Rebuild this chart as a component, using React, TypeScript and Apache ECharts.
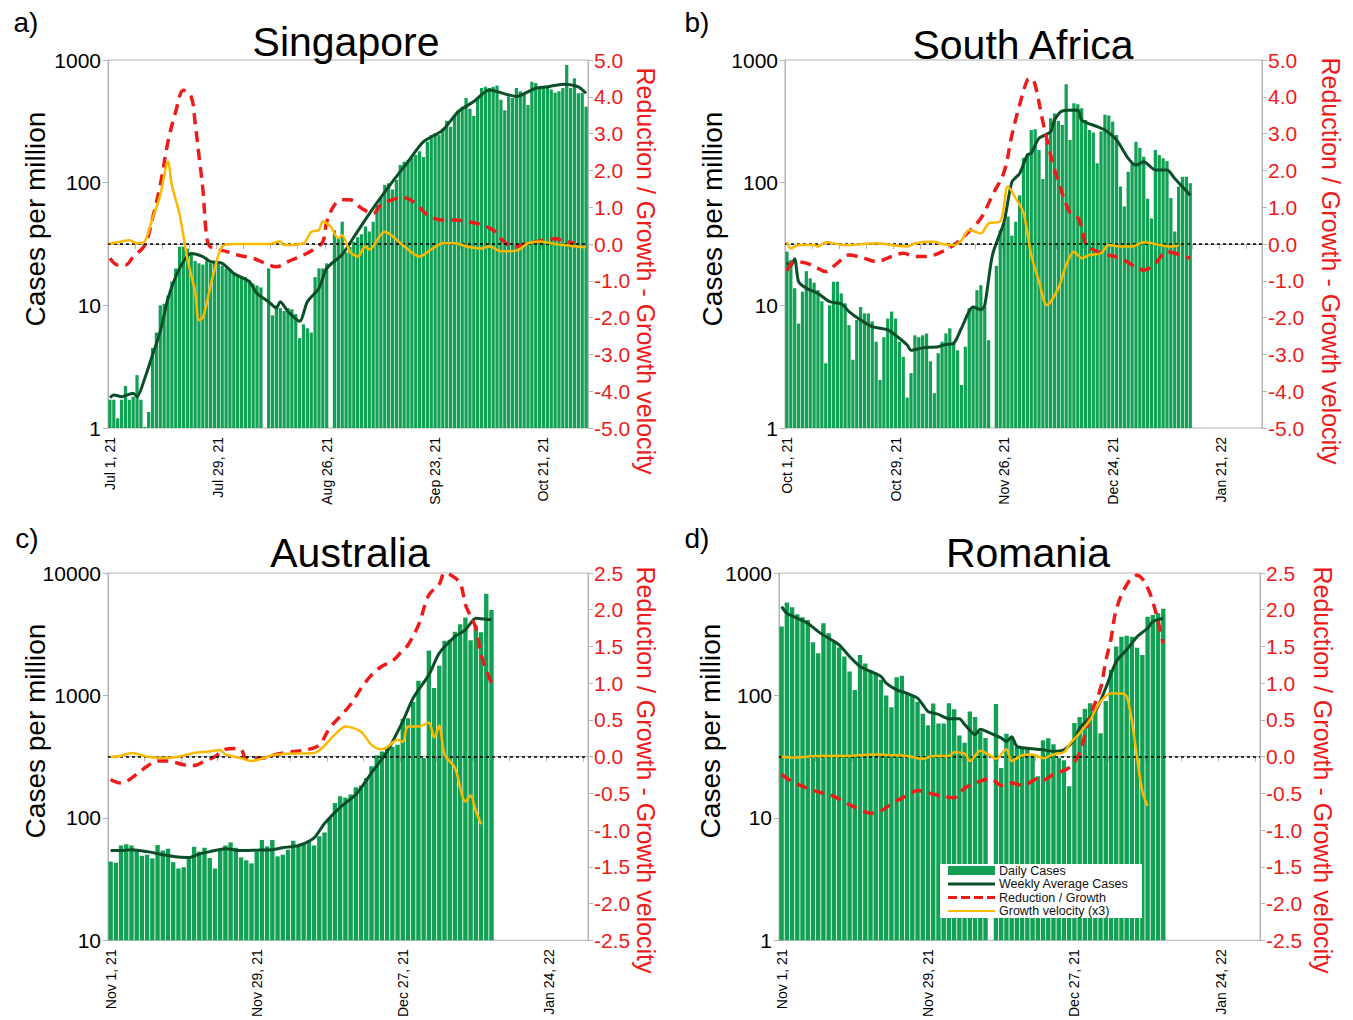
import React, { useEffect, useRef } from 'react';
import * as echarts from 'echarts';

const FONT = '"Liberation Sans", Arial, sans-serif';
const GREEN = '#12a154';
const DARK = '#0a4f28';
const RED = '#ee1b1b';
const YELLOW = '#fbb800';
const AXIS = '#b3b3b3';

const MONTHS = ['Jan', 'Feb', 'Mar', 'Apr', 'May', 'Jun', 'Jul', 'Aug', 'Sep', 'Oct', 'Nov', 'Dec'];
function dayLabels(y: number, m: number, d: number, n: number): string[] {
  const out: string[] = [];
  for (let k = 0; k < n; k++) {
    const dt = new Date(Date.UTC(y, m, d + k));
    out.push(`${MONTHS[dt.getUTCMonth()]} ${dt.getUTCDate()}, ${String(dt.getUTCFullYear()).slice(2)}`);
  }
  return out;
}

// Categories (daily)
const sgDays = dayLabels(2021, 6, 1, 124);
const saDays = dayLabels(2021, 9, 1, 123);
const auDays = dayLabels(2021, 10, 1, 92);
const roDays = dayLabels(2021, 10, 1, 92);

const TITLES = ['Singapore', 'South Africa', 'Australia', 'Romania'];
const LETTERS = ['a)', 'b)', 'c)', 'd)'];
const LEFT_NAME = 'Cases per million';
const RIGHT_NAME = 'Reduction / Growth - Growth velocity';
const LEGEND_NAMES = ['Daily Cases', 'Weekly Average Cases', 'Reduction / Growth', 'Growth velocity (x3)'];

// ---- Singapore ----
const sgBars = [
  1.7, 1.7, 1.2, 1.7, 2.2, 1.7, 1.8, 2.7, 1.7, 1.02, 1.35,
  4.5, 6, 10, 10.3, 12, 15.6, 20, 30, 30, 29, 27,
  23, 22, 21.5, 23, 22, 23, 22, 21, 20, 19.5, 18.6, 17.8, 16.8, 17, 16, 15, 14.5, 14,
  null, 20, 8.3, 10, 9.5, 9, 9.5, 9.3, 8.5, 5.4, 7, 6.5, 6, 17, 20, 20, 22, null, 41, 35,
  48, 27, 30, 33, 36, 38, 44, 40, 48, 66, 75, 96, 99, 88, 105, 139, 148, 152, 162, 168,
  180, 162, 216, 245, 253, 245, 277, 320, 285, 356, 390, 415, 490, 400, 350, 490, 590, 605, 590, 605,
  620, 475, 390, 505, 490, 590, 555, 520, 430, 665, 650, 590, 600, 590, 575, 540, 555, 590, 910, 590,
  710, 535, 540, 415,
];
const sgWeekly = [
  [0, 1.77], [1, 1.86], [3, 1.8], [6, 1.92], [7, 1.8], [9, 2.54], [11, 3.94], [13, 6.1], [15, 11.4], [18, 20],
  [21, 26.5], [24, 25], [26, 22.7], [29, 22], [32, 18.2], [36, 15.6], [38, 12.5], [41, 10.7], [43, 9.5], [44, 10.7],
  [46, 8.9], [49, 7.4], [51, 10.7], [54, 13.8], [56, 20], [60, 26], [63, 36], [68, 62], [73, 102], [77, 148],
  [81, 216], [86, 268], [90, 380], [94, 458], [98, 569], [103, 519], [105, 505], [110, 590], [113, 605], [117, 635],
  [121, 605], [123, 535],
];
const sgRed = [
  [0, -0.39], [2, -0.57], [4, -0.57], [6, -0.35], [9, -0.03], [11, 0.7], [13, 1.6], [15, 2.78], [17, 3.6], [19, 4.18],
  [21, 4.0], [22, 3.3], [23, 2.4], [24, 1.5], [25, 0.2], [26, -0.08], [30, -0.2], [33, -0.3], [37, -0.39], [40, -0.52],
  [43, -0.62], [46, -0.48], [50, -0.3], [53, -0.12], [55, 0.06], [56, 0.6], [58, 1.06], [60, 1.2], [62, 1.2], [65, 0.97],
  [68, 0.83], [70, 1.06], [74, 1.24], [76, 1.26], [79, 1.1], [82, 0.79], [86, 0.65], [89, 0.65], [93, 0.6], [96, 0.52],
  [99, 0.38], [101, 0.15], [103, -0.03], [105, -0.07], [107, 0], [110, 0.06], [112, 0.1], [115, 0.14], [118, 0.06], [120, 0.02],
];
const sgYellow = [
  [0, 0.02], [2, 0.05], [5, 0.1], [7, 0.02], [9, 0.07], [11, 0.7], [13, 1.33], [15, 2.24], [16, 1.6], [18, 0.8],
  [20, -0.4], [22, -1.3], [23, -2.07], [24, -2.0], [25, -1.6], [27, -0.7], [29, -0.07], [32, 0], [37, 0], [41, 0],
  [44, 0.07], [45, -0.03], [50, 0.02], [52, 0.33], [54, 0.38], [55, 0.61], [57, 0.47], [59, 0.16], [60, 0.24], [62, -0.21],
  [64, -0.34], [66, -0.07], [67, -0.15], [71, 0.33], [75, 0.03], [80, -0.34], [83, -0.15], [86, 0.02], [89, 0.02], [93, -0.09],
  [96, -0.12], [98, -0.06], [101, -0.2], [105, -0.18], [108, 0.02], [111, 0.07], [115, 0], [120, -0.06], [123, -0.09],
];

// ---- South Africa ----
const saBars = [
  27.4, 23.4, 13.8, 7.1, 12.9, 19, 16.6, 15.3, 13.3, 10.8,
  3.37, 10, 15.6, 15.6, 12.5, 10.4, 6.9, 3.6, 7.6, 9.7,
  8.6, 8.6, 7.4, 5.05, 2.46, 5.5, 7.8, 8.9, 7.8, 5.05,
  3.8, 1.77, 2.8, 5.7, 5.5, 5.7, 5.9, 3.5, 1.92, 4.07,
  5.05, 5.9, 6.5, 5.05, 4.3, 2.24, 4.6, 9.5, 9.7, 13.3,
  14.6, 9.7, 5.2, null, 21, 41, 47, 53, 37, 48, 79,
  160, 168, 269, 273, 185, 107, 230, 335, 367, 318, 295, 634, 223, 445, 435, 404, 324, 269, 257, 144,
  262, 357, 352, 314, 245, 93, 64, 123, 144, 216, 193, 163, 74, 51, 185, 168, 158, 150, 75, 40,
  93, 112, 112, 99,
];
const saWeekly = [
  [0, 22.4], [1, 21], [2, 24], [3, 15.6], [5, 13.8], [8, 12.5], [11, 10.7], [14, 10.3], [16, 8.9], [19, 7.6],
  [22, 6.7], [26, 6.3], [28, 5.7], [31, 4.75], [32, 4.3], [35, 4.5], [39, 4.6], [41, 4.8], [43, 4.9], [45, 6.5],
  [48, 9.7], [50, 9.2], [51, 10], [53, 25.8], [56, 48], [58, 101], [60, 119], [62, 168], [63, 174], [65, 230],
  [68, 260], [69, 324], [71, 384], [75, 391], [76, 324], [80, 286], [82, 269], [85, 223], [88, 158], [90, 139],
  [92, 148], [95, 127], [98, 127], [100, 108], [104, 79],
];
const saRed = [
  [0, -0.73], [2, -0.48], [5, -0.52], [8, -0.66], [10, -0.75], [13, -0.52], [16, -0.3], [20, -0.39], [23, -0.48], [27, -0.34],
  [30, -0.25], [33, -0.34], [36, -0.34], [40, -0.21], [43, -0.03], [46, 0.24], [50, 0.7], [53, 1.33], [56, 1.96], [58, 2.96],
  [60, 3.78], [62, 4.46], [63, 4.5], [64, 4.32], [66, 3.32], [68, 2.42], [70, 1.69], [73, 0.85], [75, 0.72], [76, 0.45],
  [77, 0.0], [78, -0.1], [81, -0.25], [86, -0.39], [89, -0.57], [92, -0.71], [95, -0.52], [98, -0.21], [100, -0.25], [104, -0.39],
];
const saYellow = [
  [0, 0.06], [1, -0.12], [3, -0.03], [7, -0.03], [8, -0.07], [10, 0.05], [15, -0.03], [23, 0.02], [27, -0.03], [31, -0.07],
  [33, 0.02], [38, 0.06], [40, 0], [43, -0.03], [45, 0.1], [47, 0.38], [50, 0.29], [52, 0.56], [55, 0.61], [57, 1.56],
  [59, 1.24], [61, 0.85], [63, -0.3], [65, -1.02], [67, -1.66], [70, -1.2], [72, -0.57], [74, -0.21], [75, -0.3], [76, -0.39],
  [78, -0.3], [81, -0.25], [83, -0.03], [86, -0.07], [89, -0.07], [92, 0.05], [95, 0], [99, -0.07], [101, -0.04],
];

// ---- Australia ----
const auBars = [
  44, 43, 59.5, 61, 59.5, 55, 49, 50, 46.6, 60,
  54, 56, 43.5, 38.6, 39.5, 47, 58, 53, 57, 47,
  38.6, 55, 59.5, 63, 57, 47.5, 45, 42.5, 53, 66,
  58.5, 66, 48.5, 50, 55, 65, 59.5, 61, 65.5, 59.5,
  70.8, 76, 100, 132, 150, 146,
  155, 178, 184, 212, 264, 324, 349, 376, 381, 396, 646, 652, 883, 1318, 308, 2328, 1148, 1745, 2791, 2850,
  3320, 3818, 4325, 2820, 3700, 3280, 6770, 4990,
];
const auWeekly = [
  [0, 54], [2, 54], [4, 55], [7, 53], [10, 50], [13, 47.8], [15, 47.5], [17, 50.7], [19, 53], [22, 56],
  [25, 54], [28, 54.5], [31, 55], [33, 57], [36, 59.5], [39, 68.7], [41, 90], [44, 122], [47, 155], [50, 233],
  [53, 349], [56, 614], [58, 952], [61, 1472], [63, 2213], [66, 3020], [68, 3430], [70, 4270], [71, 4230], [73, 4150],
];
const auRed = [
  [0, -0.31], [2, -0.36], [3, -0.34], [5, -0.24], [7, -0.13], [9, -0.06], [11, -0.06], [14, -0.11], [16, -0.12], [18, -0.06],
  [20, 0], [22, 0.1], [24, 0.11], [25, 0.1], [26, -0.02], [29, -0.02], [31, 0.02], [34, 0.06], [38, 0.1], [40, 0.16],
  [42, 0.39], [44, 0.55], [46, 0.71], [48, 0.93], [50, 1.11], [52, 1.23], [54, 1.3], [56, 1.45], [57, 1.52], [59, 1.79],
  [61, 2.2], [63, 2.35], [64, 2.5], [65, 2.48], [67, 2.36], [68, 2.07], [70, 1.75], [71, 1.39], [73, 1.0],
];
const auYellow = [
  [0, 0], [2, 0.01], [4, 0.05], [7, 0], [10, -0.02], [13, 0], [16, 0.05], [19, 0.07], [21, 0.09], [22, 0.03],
  [25, -0.02], [27, -0.06], [31, 0.02], [34, 0.04], [39, 0.05], [43, 0.3], [45, 0.41], [48, 0.34], [50, 0.16], [52, 0.1],
  [53, 0.13], [55, 0.23], [56, 0.2], [57, 0.41], [59, 0.41], [61, 0.46], [62, 0.26], [63, 0.42], [64, 0.03], [66, -0.15],
  [68, -0.61], [69, -0.53], [70, -0.74], [71, -0.92],
];

// ---- Romania ----
const roBars = [
  365, 573, 525, 460, 435, 413, 272, 221, 389, 322,
  272, 246, 208, 157, 111, 214, 182, 159, 153, 134,
  100, 80, 141, 145, 104, 100, 89, 71, 57, 86,
  59, 59, 86.5, 77, 47, 41, 74, 66.5, 51, 45,
  null, 85, 25.6, 48.7, 46, 38,
  38, 37, 32.8, 21.9, 43, 44.6, 40, 31, 29.6, 18.1,
  59.5, 66.5, 78, 86.5, 76, 49, 90, 162,
  251, 302, 307, 302, 245, 214, 440, 454, 468, 510,
];
const roWeekly = [
  [0, 531], [1, 469], [3, 427], [5, 389], [7, 332], [9, 293], [11, 259], [13, 208], [15, 172], [17, 157],
  [19, 143], [20, 126], [22, 111], [24, 104], [26, 95], [27, 84], [28, 74], [30, 70], [32, 64.5], [34, 64.5],
  [35, 58], [37, 47.8], [38, 53], [40, 49], [42, 45], [43, 42], [44, 46], [45, 38.4], [47, 37], [50, 36],
  [52, 35], [54, 36], [56, 43.5], [57, 54], [60, 74], [62, 115], [64, 189], [66, 236], [68, 302], [70, 354],
  [71, 401], [73, 427],
];
const roRed = [
  [0, -0.24], [2, -0.34], [5, -0.43], [7, -0.48], [10, -0.54], [12, -0.62], [15, -0.72], [17, -0.77], [19, -0.74], [21, -0.64],
  [24, -0.53], [26, -0.46], [29, -0.51], [31, -0.54], [33, -0.56], [35, -0.43], [37, -0.36], [40, -0.3], [42, -0.39], [44, -0.36],
  [46, -0.39], [47, -0.37], [49, -0.3], [50, -0.32], [52, -0.24], [55, -0.15], [57, 0.05], [58, 0.3], [59, 0.55], [61, 0.93],
  [62, 1.3], [63, 1.6], [64, 2.0], [66, 2.34], [68, 2.47], [69, 2.42], [70, 2.3], [71, 2.11], [72, 1.84], [73, 1.54],
];
const roYellow = [
  [0, 0], [2, -0.01], [5, 0], [8, 0.01], [12, 0.01], [15, 0.02], [18, 0.03], [21, 0.02], [24, 0.01], [27, -0.03],
  [29, 0.01], [32, 0.01], [33, 0.06], [35, 0.04], [36, -0.06], [38, 0.08], [40, 0.01], [41, -0.03], [43, 0.1], [44, -0.06],
  [46, 0.02], [48, 0.03], [50, -0.02], [52, 0.03], [54, 0.06], [55, 0.16], [57, 0.32], [59, 0.5], [61, 0.75], [63, 0.86],
  [65, 0.86], [66, 0.82], [67, 0.48], [68, -0.02], [69, -0.47], [70, -0.67],
];

const PANELS = [
  { days: sgDays, bars: sgBars, weekly: sgWeekly, red: sgRed, yellow: sgYellow, logMin: 1, logMax: 1000, rMin: -5, rMax: 5, rStep: 1 },
  { days: saDays, bars: saBars, weekly: saWeekly, red: saRed, yellow: saYellow, logMin: 1, logMax: 1000, rMin: -5, rMax: 5, rStep: 1 },
  { days: auDays, bars: auBars, weekly: auWeekly, red: auRed, yellow: auYellow, logMin: 10, logMax: 10000, rMin: -2.5, rMax: 2.5, rStep: 0.5 },
  { days: roDays, bars: roBars, weekly: roWeekly, red: roRed, yellow: roYellow, logMin: 1, logMax: 1000, rMin: -2.5, rMax: 2.5, rStep: 0.5 },
];

const LAYOUT = [
  { grid: [108, 60, 480, 368], title: [346, 42], letter: [26, 22], leftName: [35, 219], rightName: [646, 271] },
  { grid: [785, 60, 477, 368], title: [1023, 45], letter: [697, 22], leftName: [712, 219], rightName: [1331, 261] },
  { grid: [108, 573, 480, 368], title: [350, 553], letter: [27, 538], leftName: [35, 731], rightName: [646, 770] },
  { grid: [779, 573, 481, 368], title: [1028, 553], letter: [697, 538], leftName: [710, 731], rightName: [1323, 770] },
];

function txt(s: string, x: number, y: number, size: number, color: string, rot: number, align = 'center') {
  return {
    type: 'text', x, y, rotation: rot, silent: true, z: 100,
    style: {
      text: s, fontSize: size, fontFamily: FONT, fill: color,
      align, verticalAlign: 'middle', textAlign: align, textVerticalAlign: 'middle',
    },
  };
}

function legendGraphics() {
  const left = 940, top = 864, w = 202, h = 54;
  const rows = [870.5, 884, 897.5, 911];
  const out: any[] = [];
  out.push({ type: 'rect', silent: true, z: 95, shape: { x: left, y: top, width: w, height: h }, style: { fill: '#fff', stroke: 'none' } });
  out.push({ type: 'rect', silent: true, z: 96, shape: { x: 948, y: rows[0] - 4.5, width: 47, height: 9 }, style: { fill: GREEN } });
  out.push({ type: 'line', silent: true, z: 96, shape: { x1: 948, y1: rows[1], x2: 995, y2: rows[1] }, style: { stroke: DARK, lineWidth: 3 } });
  out.push({ type: 'line', silent: true, z: 96, shape: { x1: 948, y1: rows[2], x2: 995, y2: rows[2] }, style: { stroke: RED, lineWidth: 3, lineDash: [9, 4] } });
  out.push({ type: 'line', silent: true, z: 96, shape: { x1: 948, y1: rows[3], x2: 995, y2: rows[3] }, style: { stroke: YELLOW, lineWidth: 2 } });
  LEGEND_NAMES.forEach((n, i) => out.push(txt(n, 999, rows[i], 12.5, '#111', 0, 'left')));
  return out;
}

function buildOption() {
  const grid: any[] = [];
  const xAxis: any[] = [];
  const yAxis: any[] = [];
  const series: any[] = [];
  const graphic: any[] = [];

  PANELS.forEach((p, k) => {
    const L = LAYOUT[k];
    grid.push({ left: L.grid[0], top: L.grid[1], width: L.grid[2], height: L.grid[3], show: true, borderColor: AXIS, borderWidth: 1, backgroundColor: 'transparent' });
    xAxis.push({
      type: 'category', gridIndex: k, data: p.days, boundaryGap: true,
      axisLine: { show: true, lineStyle: { color: AXIS } },
      axisTick: { show: true, interval: 6, length: 5, lineStyle: { color: AXIS } },
      axisLabel: { interval: 27, rotate: 90, fontSize: 14, color: '#000', margin: 9, fontFamily: FONT },
      splitLine: { show: false },
    });
    yAxis.push({
      type: 'log', logBase: 10, gridIndex: k, min: p.logMin, max: p.logMax, position: 'left',
      axisLine: { show: true, lineStyle: { color: AXIS } },
      axisTick: { show: true, length: 5, lineStyle: { color: AXIS } },
      axisLabel: { fontSize: 21, color: '#000', margin: 7, fontFamily: FONT, formatter: (v: number) => String(Math.round(v)) },
      splitLine: { show: false },
    });
    yAxis.push({
      type: 'value', gridIndex: k, min: p.rMin, max: p.rMax, interval: p.rStep, position: 'right',
      axisLine: { show: true, lineStyle: { color: AXIS } },
      axisTick: { show: true, length: 5, lineStyle: { color: AXIS } },
      axisLabel: { fontSize: 21, color: RED, margin: 6, fontFamily: FONT, formatter: (v: number) => v.toFixed(1) },
      splitLine: { show: false },
    });
    series.push({
      type: 'bar', name: LEGEND_NAMES[0], xAxisIndex: k, yAxisIndex: 2 * k, data: p.bars,
      itemStyle: { color: GREEN }, barCategoryGap: '16%', clip: true, z: 2,
    });
    series.push({
      type: 'line', name: LEGEND_NAMES[1], xAxisIndex: k, yAxisIndex: 2 * k, data: p.weekly,
      symbol: 'none', showSymbol: false, smooth: 0.25, lineStyle: { color: DARK, width: 3 }, itemStyle: { color: DARK }, z: 3,
    });
    series.push({
      type: 'line', name: LEGEND_NAMES[2], xAxisIndex: k, yAxisIndex: 2 * k + 1, data: p.red,
      symbol: 'none', showSymbol: false, smooth: 0.35, lineStyle: { color: RED, width: 3.5, type: [11, 7] }, itemStyle: { color: RED }, z: 4,
      markLine: {
        silent: true, symbol: ['none', 'none'], label: { show: false },
        lineStyle: { color: '#000', type: [3, 3], width: 1.5 },
        data: [{ yAxis: 0 }],
      },
    });
    series.push({
      type: 'line', name: LEGEND_NAMES[3], xAxisIndex: k, yAxisIndex: 2 * k + 1, data: p.yellow,
      symbol: 'none', showSymbol: false, smooth: 0.3, lineStyle: { color: YELLOW, width: 2.5 }, itemStyle: { color: YELLOW }, z: 5,
    });

    graphic.push(txt(TITLES[k], L.title[0], L.title[1], 41, '#000', 0));
    graphic.push(txt(LETTERS[k], L.letter[0], L.letter[1], 28, '#000', 0));
    graphic.push(txt(LEFT_NAME, L.leftName[0], L.leftName[1], 28, '#000', Math.PI / 2));
    graphic.push(txt(RIGHT_NAME, L.rightName[0], L.rightName[1], 25, RED, -Math.PI / 2));
  });

  graphic.push(...legendGraphics());

  return {
    animation: false,
    backgroundColor: '#fff',
    textStyle: { fontFamily: FONT },
    grid, xAxis, yAxis, series, graphic,
  };
}

export default function App() {
  const ref = useRef<HTMLDivElement>(null);
  useEffect(() => {
    const chart = echarts.init(ref.current as HTMLDivElement, null, { renderer: 'svg' });
    chart.setOption(buildOption() as any);
    return () => chart.dispose();
  }, []);
  return (
    <div
      ref={ref}
      style={{ position: 'fixed', left: 0, top: 0, width: 1353, height: 1020, background: '#fff' }}
    />
  );
}
